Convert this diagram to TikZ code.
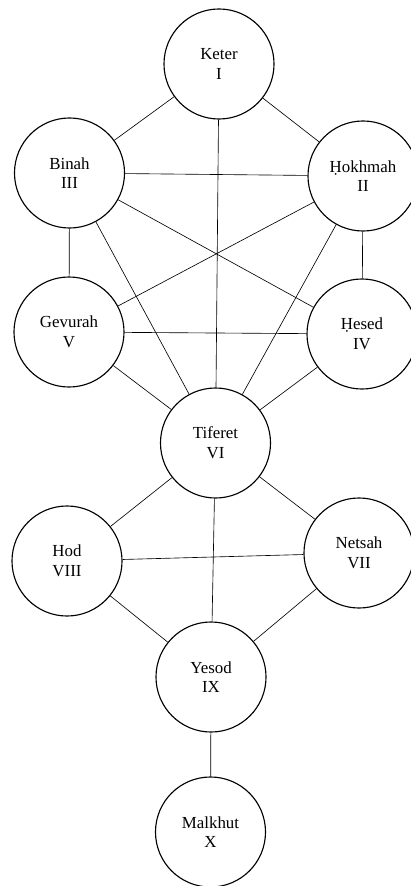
\documentclass[tikz,border=0pt]{standalone}
\usepackage{fontspec}
\setmainfont{Liberation Serif}

\tikzset{
	sefira/.style={draw, circle, line width=0.8pt, minimum size=2.75cm, inner sep=0pt, align=center, font=\fontsize{12}{14}\selectfont},
	channel/.style={line width=0.45pt}
}

\begin{document}
\begin{tikzpicture}[x=0.025cm, y=-0.025cm]
		%%%%% START %%%%%
		\useasboundingbox (0, 0) rectangle (411, 886);
		
		\node[sefira] (keter) at (219, 64) {Keter\\I};
		\node[sefira] (binah) at (69.5, 173) {Binah\\III};
		\node[sefira] (hokhmah) at (363, 176) {Ḥokhmah\\II};
		\node[sefira] (gevurah) at (69, 332) {Gevurah\\V};
		\node[sefira] (hesed) at (362, 334) {Ḥesed\\IV};
		\node[sefira] (tiferet) at (215.5, 443) {Tiferet\\VI};
		\node[sefira] (hod) at (67, 561) {Hod\\VIII};
		\node[sefira] (netsah) at (359, 553) {Netsah\\VII};
		\node[sefira] (yesod) at (211, 677) {Yesod\\IX};
		\node[sefira] (malkhut) at (210.5, 832) {Malkhut\\X};
		
		% upper triad
		\draw[channel] (keter) -- (binah);
		\draw[channel] (keter) -- (hokhmah);
		\draw[channel] (keter) -- (tiferet);
		\draw[channel] (binah) -- (hokhmah);
		
		% middle
		\draw[channel] (binah) -- (gevurah);
		\draw[channel] (hokhmah) -- (hesed);
		\draw[channel] (binah) -- (hesed);
		\draw[channel] (hokhmah) -- (gevurah);
		\draw[channel] (binah) -- (tiferet);
		\draw[channel] (hokhmah) -- (tiferet);
		\draw[channel] (gevurah) -- (hesed);
		\draw[channel] (gevurah) -- (tiferet);
		\draw[channel] (hesed) -- (tiferet);
		
		% lower
		\draw[channel] (tiferet) -- (hod);
		\draw[channel] (tiferet) -- (netsah);
		\draw[channel] (tiferet) -- (yesod);
		\draw[channel] (hod) -- (netsah);
		\draw[channel] (hod) -- (yesod);
		\draw[channel] (netsah) -- (yesod);
		\draw[channel] (yesod) -- (malkhut);
		
		%%%%% END %%%%%
	\end{tikzpicture}
\end{document}
